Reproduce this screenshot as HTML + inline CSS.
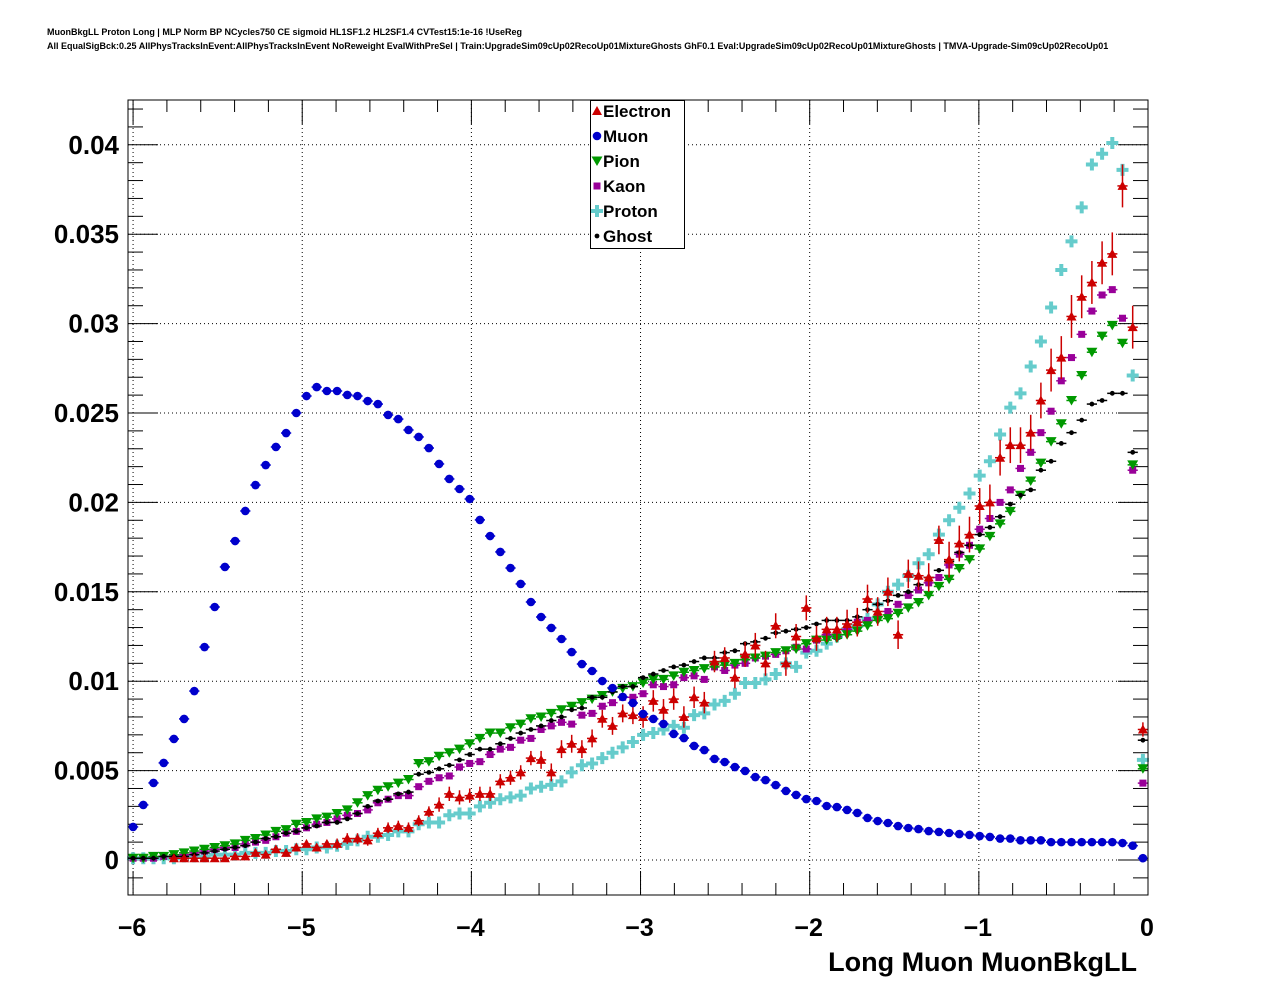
<!DOCTYPE html>
<html><head><meta charset="utf-8"><style>
html,body{margin:0;padding:0;background:#fff;}
svg{display:block;font-family:"Liberation Sans",sans-serif;}
</style></head><body>
<svg id="chart" width="1276" height="996" viewBox="0 0 1276 996" xmlns="http://www.w3.org/2000/svg">
<rect x="0" y="0" width="1276" height="996" fill="#fff"/>
<text x="47" y="35" font-size="9" font-weight="bold">MuonBkgLL Proton Long | MLP Norm BP NCycles750 CE sigmoid HL1SF1.2 HL2SF1.4 CVTest15:1e-16 !UseReg</text>
<text x="47" y="49" font-size="9" font-weight="bold">All EqualSigBck:0.25 AllPhysTracksInEvent:AllPhysTracksInEvent NoReweight EvalWithPreSel | Train:UpgradeSim09cUp02RecoUp01MixtureGhosts GhF0.1 Eval:UpgradeSim09cUp02RecoUp01MixtureGhosts | TMVA-Upgrade-Sim09cUp02RecoUp01</text>
<g id="grid"></g>
<g id="axes"></g>
<g id="marks"></g>
<rect x="128" y="100" width="1020" height="795" fill="none" stroke="#000" stroke-width="1"/>
<g id="legend"></g>
<text x="1137" y="971" font-size="27" font-weight="bold" text-anchor="end">Long Muon MuonBkgLL</text>
</svg>
<script>
const xTicks = [-6,-5,-4,-3,-2,-1,0];
const xTickLabels = ["\u22126","\u22125","\u22124","\u22123","\u22122","\u22121","0"];
const yTicks = [0,0.005,0.01,0.015,0.02,0.025,0.03,0.035,0.04];
const yTickLabels = ["0","0.005","0.01","0.015","0.02","0.025","0.03","0.035","0.04"];
const binLow = -6.03, binWidth = 0.0603;
const electron = [0,0,0,0,0.0001,0.0001,0.0001,0.0001,0.0001,0.0001, 0.0002,0.0002,0.0004,0.0003,0.0006,0.0004,0.0007,0.0009,0.0007,0.0009, 0.0009,0.0012,0.0012,0.0011,0.0015,0.0018,0.0019,0.0018,0.0022,0.0027, 0.0031,0.0037,0.0035,0.0036,0.0037,0.0037,0.0044,0.0046,0.0049,0.0057, 0.0056,0.0049,0.0062,0.0065,0.0062,0.0068,0.0079,0.0075,0.0082,0.0081, 0.0080,0.0089,0.0084,0.0090,0.0080,0.0091,0.0088,0.0111,0.0113,0.0102, 0.0115,0.0120,0.0110,0.0131,0.0110,0.0125,0.0141,0.0124,0.0129,0.0129, 0.0132,0.0133,0.0146,0.0139,0.0150,0.0126,0.0160,0.0159,0.0158,0.0179, 0.0168,0.0177,0.0182,0.0198,0.0200,0.0225,0.0232,0.0232,0.0239,0.0257, 0.0274,0.0281,0.0304,0.0315,0.0323,0.0334,0.0339,0.0377,0.0298,0.0073];
const electronErr = [0.0001,0.0001,0.0001,0.0001,0.0001,0.0001,0.0001,0.0001,0.0001,0.0001, 0.0002,0.0002,0.0002,0.0002,0.0002,0.0002,0.0002,0.0002,0.0002,0.0002, 0.0003,0.0003,0.0003,0.0003,0.0003,0.0003,0.0003,0.0003,0.0003,0.0003, 0.0004,0.0004,0.0004,0.0004,0.0004,0.0004,0.0004,0.0004,0.0004,0.0004, 0.0005,0.0005,0.0005,0.0005,0.0005,0.0005,0.0005,0.0005,0.0005,0.0005, 0.0006,0.0006,0.0006,0.0006,0.0006,0.0006,0.0006,0.0006,0.0006,0.0006, 0.0007,0.0007,0.0007,0.0007,0.0007,0.0007,0.0007,0.0007,0.0007,0.0007, 0.0008,0.0008,0.0008,0.0008,0.0008,0.0008,0.0008,0.0008,0.0008,0.0008, 0.0010,0.0010,0.0010,0.0010,0.0010,0.0010,0.0010,0.0010,0.0010,0.0010, 0.0012,0.0012,0.0012,0.0012,0.0012,0.0012,0.0012,0.0012,0.0012,0.0004];
const muon = [0.00185,0.00308,0.00431,0.00543,0.00677,0.00789,0.00945,0.01191,0.01415,0.01639, 0.01784,0.01952,0.02097,0.02209,0.0231,0.02388,0.025,0.02595,0.02645,0.02623, 0.02623,0.02601,0.02595,0.02567,0.0255,0.02489,0.02466,0.02405,0.02366,0.02304, 0.02215,0.02131,0.02075,0.02019,0.01902,0.01812,0.01723,0.01633,0.01544,0.01443, 0.01359,0.01298,0.01236,0.01163,0.01096,0.01057,0.01001,0.00962,0.00912,0.00878, 0.00817,0.00789,0.00761,0.00705,0.00682,0.00638,0.00615,0.00565,0.00548,0.0052, 0.00498,0.00464,0.00447,0.00419,0.00386,0.00364,0.00341,0.0033,0.00302,0.00296, 0.0028,0.00263,0.00235,0.00218,0.00207,0.0019,0.00179,0.00173,0.00162,0.00157, 0.00151,0.00145,0.0014,0.00134,0.00129,0.0012,0.0012,0.0011,0.0011,0.0011, 0.001,0.001,0.001,0.001,0.001,0.001,0.001,0.00095,0.0008,0.0001];
const pion = [0.0001,0.0001,0.0002,0.0002,0.0003,0.0004,0.0005,0.0006,0.0007,0.0008, 0.0009,0.0011,0.0012,0.0014,0.0016,0.0017,0.0020,0.0021,0.0023,0.0024, 0.0026,0.0028,0.0032,0.0036,0.0039,0.0041,0.0043,0.0045,0.0054,0.0055, 0.0058,0.0060,0.0062,0.0065,0.0068,0.0071,0.0071,0.0074,0.0076,0.0079, 0.0080,0.0082,0.0084,0.0086,0.0088,0.0090,0.0092,0.0094,0.0096,0.0097, 0.0099,0.0101,0.0101,0.0103,0.0105,0.0106,0.0107,0.0108,0.0109,0.0110, 0.0112,0.0113,0.0114,0.0116,0.0117,0.0118,0.0121,0.0123,0.0123,0.0124, 0.0126,0.0128,0.0131,0.0134,0.0135,0.0138,0.0141,0.0144,0.0148,0.0153, 0.0157,0.0163,0.0168,0.0174,0.0181,0.0188,0.0195,0.0204,0.0212,0.0222, 0.0234,0.0244,0.0257,0.0271,0.0284,0.0293,0.0299,0.0289,0.0221,0.0051];
const kaon = [0.0001,0.0001,0.0001,0.0002,0.0002,0.0003,0.0004,0.0005,0.0006,0.0007, 0.0007,0.0009,0.0010,0.0011,0.0013,0.0015,0.0016,0.0018,0.0020,0.0021, 0.0023,0.0025,0.0026,0.0028,0.0032,0.0034,0.0036,0.0036,0.0041,0.0044, 0.0046,0.0047,0.0052,0.0054,0.0055,0.0059,0.0062,0.0063,0.0067,0.0068, 0.0073,0.0075,0.0077,0.0076,0.0081,0.0082,0.0086,0.0088,0.0091,0.0091, 0.0093,0.0098,0.0097,0.0098,0.0102,0.0103,0.0101,0.0108,0.0106,0.0109, 0.0110,0.0113,0.0114,0.0115,0.0117,0.0119,0.0118,0.0123,0.0126,0.0125, 0.0129,0.0133,0.0134,0.0136,0.0139,0.0143,0.0148,0.0151,0.0155,0.0158, 0.0165,0.0171,0.0176,0.0185,0.0191,0.0200,0.0207,0.0219,0.0228,0.0239, 0.0251,0.0268,0.0281,0.0294,0.0307,0.0316,0.0319,0.0303,0.0218,0.0043];
const proton = [0.0001,0.0001,0.0001,0.0001,0.0001,0.0002,0.0002,0.0002,0.0003,0.0003, 0.0003,0.0004,0.0004,0.0004,0.0005,0.0005,0.0006,0.0006,0.0007,0.0007, 0.0008,0.0009,0.0011,0.0013,0.0013,0.0014,0.0016,0.0016,0.0020,0.0021, 0.0021,0.0025,0.0026,0.0026,0.0030,0.0032,0.0034,0.0035,0.0036,0.0040, 0.0041,0.0042,0.0044,0.0049,0.0053,0.0054,0.0057,0.0060,0.0063,0.0066, 0.0070,0.0071,0.0073,0.0075,0.0074,0.0081,0.0082,0.0087,0.0089,0.0093, 0.0099,0.0099,0.0101,0.0104,0.0110,0.0108,0.0116,0.0117,0.0121,0.0125, 0.0129,0.0131,0.0135,0.0143,0.0150,0.0154,0.0159,0.0166,0.0171,0.0182, 0.0190,0.0197,0.0205,0.0215,0.0223,0.0238,0.0253,0.0261,0.0276,0.0290, 0.0309,0.0330,0.0346,0.0365,0.0389,0.0395,0.0401,0.0386,0.0271,0.0056];
const ghost = [0.0001,0.0001,0.0001,0.0002,0.0002,0.0002,0.0003,0.0004,0.0005,0.0006, 0.0007,0.0008,0.0010,0.0012,0.0013,0.0015,0.0016,0.0018,0.0019,0.0021, 0.0021,0.0023,0.0026,0.0030,0.0033,0.0034,0.0037,0.0038,0.0048,0.0049, 0.0051,0.0053,0.0056,0.0059,0.0062,0.0062,0.0065,0.0068,0.0071,0.0073, 0.0075,0.0078,0.0080,0.0084,0.0085,0.0091,0.0091,0.0094,0.0097,0.0097, 0.0102,0.0104,0.0106,0.0108,0.0109,0.0111,0.0113,0.0113,0.0116,0.0117, 0.0121,0.0122,0.0124,0.0127,0.0128,0.0129,0.0130,0.0132,0.0134,0.0134, 0.0134,0.0136,0.0140,0.0143,0.0145,0.0148,0.0150,0.0154,0.0158,0.0162, 0.0167,0.0172,0.0176,0.0182,0.0186,0.0192,0.0199,0.0204,0.0207,0.0218, 0.0223,0.0233,0.0239,0.0246,0.0255,0.0257,0.0261,0.0261,0.0228,0.0067];

const NS = "http://www.w3.org/2000/svg";
const X0 = 128, X1 = 1148, XMIN = -6.03, XMAX = 0, Y0px = 860, YperUnit = 17880;
function xs(v){ return X0 + (v - XMIN) / (XMAX - XMIN) * (X1 - X0); }
function ys(v){ return Y0px - v * YperUnit; }
function mk(tag, attrs, parent){ const e = document.createElementNS(NS, tag); for (const k in attrs) e.setAttribute(k, attrs[k]); parent.appendChild(e); return e; }

const grid = document.getElementById('grid');
const axes = document.getElementById('axes');
const marks = document.getElementById('marks');
const legend = document.getElementById('legend');

xTicks.forEach(function(t){
  if (t === 0) return;
  const l = mk('line', {x1: xs(t), x2: xs(t), y1: 100, y2: 895, stroke: '#000', 'stroke-width': 1, 'stroke-dasharray': '1,3'}, grid);
  
  
});
yTicks.forEach(function(t){
  const l = mk('line', {x1: 128, x2: 1148, y1: ys(t), y2: ys(t), stroke: '#000', 'stroke-width': 1, 'stroke-dasharray': '1,3'}, grid);
  
  
});
for (let k = -2; k <= 42; k++) {
  const v = k * 0.001; const y = ys(v);
  if (y < 100 || y > 895) continue;
  const major = (k % 5 === 0);
  const len = major ? 30 : 15;
  const a = mk('line', {x1: 128, x2: 128 + len, y1: y, y2: y, stroke: '#000', 'stroke-width': 1}, axes);
  
  
  const b = mk('line', {x1: 1148 - len, x2: 1148, y1: y, y2: y, stroke: '#000', 'stroke-width': 1}, axes);
  
  
}
yTicks.forEach(function(t, i){
  const tx = mk('text', {x: 119, y: ys(t) + 9, 'font-size': 26, 'font-weight': 'bold', 'text-anchor': 'end'}, axes);
  tx.textContent = yTickLabels[i];
  
  
});
for (let k = 0; k <= 30; k++) {
  const v = -6 + k * 0.2; const x = xs(v);
  const major = (k % 5 === 0);
  const len = major ? 24 : 12;
  const a = mk('line', {x1: x, x2: x, y1: 895, y2: 895 - len, stroke: '#000', 'stroke-width': 1}, axes);
  
  
  const b = mk('line', {x1: x, x2: x, y1: 100, y2: 100 + len, stroke: '#000', 'stroke-width': 1}, axes);
  
  
}
xTicks.forEach(function(t, i){
  const tx = mk('text', {x: xs(t) - 1, y: 936, 'font-size': 25, 'font-weight': 'bold', 'text-anchor': 'middle'}, axes);
  tx.textContent = xTickLabels[i];
  
  
});

function marker(type, color, cx, cy, parent){
  let e;
  if (type === 'tri-up') e = mk('polygon', {points: (cx-5)+','+(cy+4)+' '+(cx+5)+','+(cy+4)+' '+cx+','+(cy-5), fill: color}, parent);
  else if (type === 'tri-down') e = mk('polygon', {points: (cx-5.5)+','+(cy-4.5)+' '+(cx+5.5)+','+(cy-4.5)+' '+cx+','+(cy+5), fill: color}, parent);
  else if (type === 'circle') e = mk('circle', {cx: cx, cy: cy, r: 4.3, fill: color}, parent);
  else if (type === 'small') e = mk('circle', {cx: cx, cy: cy, r: 2.4, fill: color}, parent);
  else if (type === 'square') e = mk('rect', {x: cx-3.5, y: cy-3.5, width: 7, height: 7, fill: color}, parent);
  else if (type === 'cross') e = mk('path', {d: 'M'+(cx-2)+','+(cy-6)+'h4v4h4v4h-4v4h-4v-4h-4v-4h4z', fill: color}, parent);
  return e;
}

const series = [
  {name: 'Electron', vals: electron, err: electronErr, color: '#cc0000', type: 'tri-up'},
  {name: 'Muon', vals: muon, err: null, color: '#0000cc', type: 'circle'},
  {name: 'Pion', vals: pion, err: null, color: '#009900', type: 'tri-down'},
  {name: 'Kaon', vals: kaon, err: null, color: '#990099', type: 'square'},
  {name: 'Proton', vals: proton, err: null, color: '#66cccc', type: 'cross'},
  {name: 'Ghost', vals: ghost, err: null, color: '#000000', type: 'small'}
];
const drawOrder = [4, 3, 2, 5, 0, 1];
drawOrder.forEach(function(si){
  const s = series[si];
  const g = mk('g', {}, marks);
  
  
  s.vals.forEach(function(v, i){
    if (v <= 0) return;
    const c = binLow + binWidth * (i + 0.5);
    const cx = xs(c), cy = ys(v);
    const h = mk('line', {x1: xs(c - binWidth/2), x2: xs(c + binWidth/2), y1: cy, y2: cy, stroke: s.color, 'stroke-width': 1.5}, g);
    
    
    if (s.err) {
      const e = mk('line', {x1: cx, x2: cx, y1: ys(v + s.err[i]), y2: ys(v - s.err[i]), stroke: s.color, 'stroke-width': 1.5}, g);
      
      
    }
    const m = marker(s.type, s.color, cx, cy, g);
    
    
  });
});

const lb = mk('rect', {x: 590.5, y: 100.5, width: 94, height: 148, fill: '#fff', stroke: '#000', 'stroke-width': 1}, legend);


series.forEach(function(s, i){
  const y = 111 + i * 25;
  const g = mk('g', {}, legend);
  
  
  const m = marker(s.type, s.color, 597, y, g);
  
  
  const t = mk('text', {x: 603, y: y + 6, 'font-size': 17, 'font-weight': 'bold'}, g);
  t.textContent = s.name;
  
  
});
</script>
</body></html>
